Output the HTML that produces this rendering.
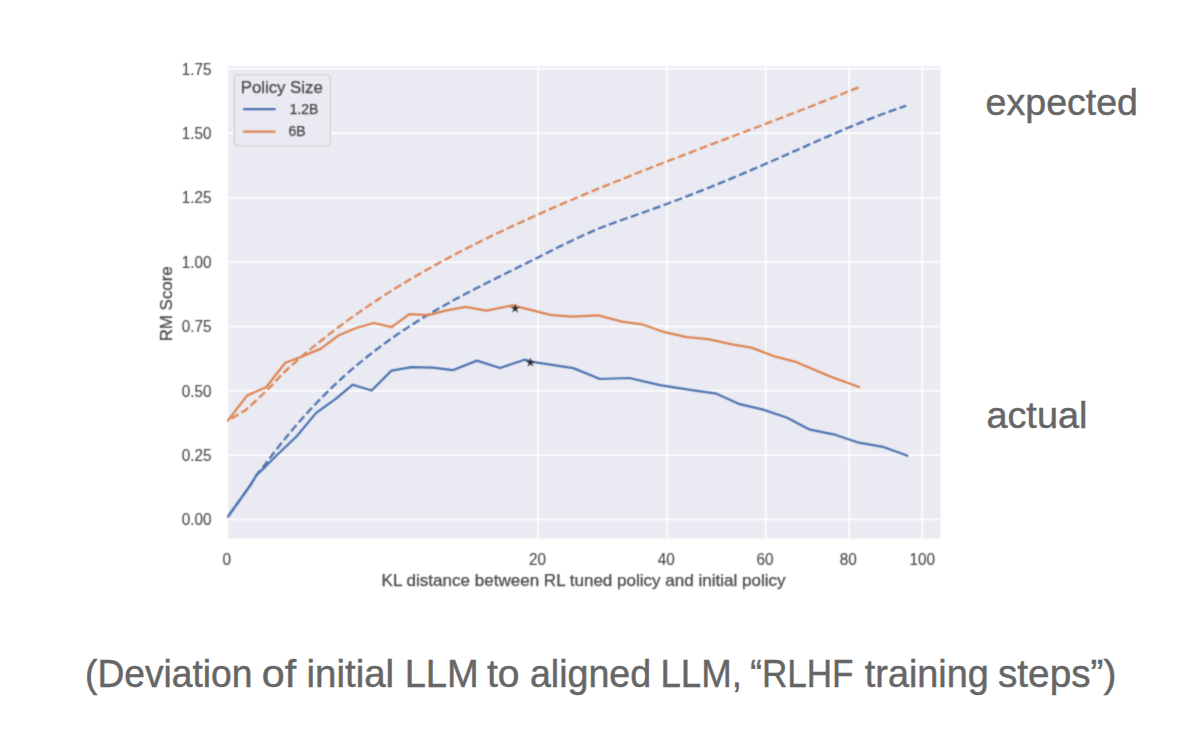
<!DOCTYPE html>
<html><head><meta charset="utf-8"><title>RM Score vs KL</title>
<style>
html,body{margin:0;padding:0;background:#fff;}
body{width:1192px;height:730px;overflow:hidden;position:relative;}
svg{position:absolute;left:0;top:0;display:block;}

</style></head><body>
<svg id="chart" width="1192" height="730" viewBox="0 0 1192 730">
<defs><filter id="soft" x="0" y="0" width="1192" height="730" filterUnits="userSpaceOnUse" color-interpolation-filters="sRGB"><feConvolveMatrix order="3" kernelMatrix="0.03607 0.11778 0.03607 0.11778 0.38462 0.11778 0.03607 0.11778 0.03607" edgeMode="duplicate"/></filter></defs>
<g filter="url(#soft)">
<rect x="0" y="0" width="1192" height="730" fill="#fff"/>
<rect x="227.5" y="66.0" width="713.0" height="472.5" fill="#EAEAF2"/>
<line x1="227.5" x2="940.5" y1="519.60" y2="519.60" stroke="#fff" stroke-width="1.5"/>
<line x1="227.5" x2="940.5" y1="455.21" y2="455.21" stroke="#fff" stroke-width="1.5"/>
<line x1="227.5" x2="940.5" y1="390.82" y2="390.82" stroke="#fff" stroke-width="1.5"/>
<line x1="227.5" x2="940.5" y1="326.42" y2="326.42" stroke="#fff" stroke-width="1.5"/>
<line x1="227.5" x2="940.5" y1="262.03" y2="262.03" stroke="#fff" stroke-width="1.5"/>
<line x1="227.5" x2="940.5" y1="197.64" y2="197.64" stroke="#fff" stroke-width="1.5"/>
<line x1="227.5" x2="940.5" y1="133.25" y2="133.25" stroke="#fff" stroke-width="1.5"/>
<line x1="227.5" x2="940.5" y1="68.85" y2="68.85" stroke="#fff" stroke-width="1.5"/>
<line x1="227.50" x2="227.50" y1="66.0" y2="538.5" stroke="#fff" stroke-width="1.5"/>
<line x1="538.22" x2="538.22" y1="66.0" y2="538.5" stroke="#fff" stroke-width="1.5"/>
<line x1="666.93" x2="666.93" y1="66.0" y2="538.5" stroke="#fff" stroke-width="1.5"/>
<line x1="765.69" x2="765.69" y1="66.0" y2="538.5" stroke="#fff" stroke-width="1.5"/>
<line x1="848.95" x2="848.95" y1="66.0" y2="538.5" stroke="#fff" stroke-width="1.5"/>
<line x1="922.30" x2="922.30" y1="66.0" y2="538.5" stroke="#fff" stroke-width="1.5"/>
<polyline points="228.0,516.6 250.5,485.0 256.6,474.8 264.7,465.0 268.7,459.6 272.7,454.3 276.7,449.1 280.7,444.0 284.7,439.1 288.7,434.2 292.7,429.4 296.7,424.7 300.7,420.2 304.7,415.7 308.7,411.3 312.7,407.0 316.7,402.8 320.7,398.7 324.7,394.6 328.7,390.7 332.7,386.8 336.7,383.0 340.7,379.3 344.7,375.7 348.7,372.2 352.7,368.7 356.7,365.3 360.7,362.0 364.7,358.7 368.7,355.5 372.7,352.4 376.7,349.3 380.7,346.3 384.7,343.4 388.7,340.5 392.7,337.7 396.7,334.9 400.7,332.2 404.7,329.5 408.7,326.9 412.7,324.3 416.7,321.8 420.7,319.3 424.7,316.8 428.7,314.4 432.7,312.1 436.7,309.7 440.7,307.4 444.7,305.2 448.7,303.0 452.7,300.8 456.7,298.6 460.7,296.4 464.7,294.3 468.7,292.2 472.7,290.1 476.7,288.1 480.7,286.0 484.7,284.0 488.7,282.0 492.7,280.0 496.7,278.0 500.7,276.0 504.7,274.0 508.7,272.0 512.7,270.1 516.7,268.1 520.7,266.1 524.7,264.1 528.7,262.1 532.7,260.2 536.7,258.2 540.7,256.1 544.7,254.1 548.7,252.1 552.7,250.1 556.7,248.1 560.7,246.1 564.7,244.1 568.7,242.2 572.7,240.2 576.7,238.3 580.7,236.5 584.7,234.6 588.7,232.9 592.7,231.1 596.7,229.4 600.7,227.8 604.7,226.3 608.7,224.7 612.7,223.2 616.7,221.8 620.7,220.4 624.7,219.0 628.7,217.6 632.7,216.2 636.7,214.8 640.7,213.4 644.7,212.0 648.7,210.5 652.7,209.1 656.7,207.6 660.7,206.2 664.7,204.7 668.7,203.2 672.7,201.7 676.7,200.2 680.7,198.7 684.7,197.2 688.7,195.6 692.7,194.1 696.7,192.5 700.7,190.9 704.7,189.3 708.7,187.7 712.7,186.1 716.7,184.5 720.7,182.9 724.7,181.2 728.7,179.6 732.7,177.9 736.7,176.2 740.7,174.5 744.7,172.9 748.7,171.2 752.7,169.4 756.7,167.7 760.7,166.0 764.7,164.3 768.7,162.5 772.7,160.8 776.7,159.0 780.7,157.2 784.7,155.5 788.7,153.7 792.7,151.9 796.7,150.2 800.7,148.4 804.7,146.6 808.7,144.8 812.7,143.1 816.7,141.3 820.7,139.5 824.7,137.8 828.7,136.1 832.7,134.3 836.7,132.6 840.7,130.9 844.7,129.2 848.7,127.5 852.7,125.9 856.7,124.2 860.7,122.6 864.7,121.0 868.7,119.4 872.7,117.9 876.7,116.3 880.7,114.8 884.7,113.3 888.7,111.9 892.7,110.4 896.7,109.0 900.7,107.6 904.7,106.3 906.2,105.8" fill="none" stroke="#4C72B0" stroke-width="2.25" stroke-dasharray="8.1 3.5" stroke-dashoffset="9.60" stroke-linejoin="round"/>
<polyline points="227.9,420.6 236.5,415.5 245.5,410.2 255.4,401.2 262.8,394.2 271.8,385.5 279.2,377.3 287.4,369.1 291.4,365.6 295.4,362.1 299.4,358.6 303.4,355.2 307.4,351.8 311.4,348.5 315.4,345.2 319.4,342.0 323.4,338.8 327.4,335.7 331.4,332.6 335.4,329.5 339.4,326.5 343.4,323.6 347.4,320.6 351.4,317.7 355.4,314.9 359.4,312.1 363.4,309.3 367.4,306.6 371.4,303.9 375.4,301.2 379.4,298.5 383.4,295.9 387.4,293.4 391.4,290.8 395.4,288.3 399.4,285.9 403.4,283.4 407.4,281.0 411.4,278.6 415.4,276.3 419.4,274.0 423.4,271.7 427.4,269.4 431.4,267.2 435.4,264.9 439.4,262.7 443.4,260.6 447.4,258.4 451.4,256.3 455.4,254.2 459.4,252.1 463.4,250.1 467.4,248.0 471.4,246.0 475.4,244.0 479.4,242.0 483.4,240.0 487.4,238.1 491.4,236.1 495.4,234.2 499.4,232.3 503.4,230.4 507.4,228.5 511.4,226.6 515.4,224.8 519.4,222.9 523.4,221.1 527.4,219.3 531.4,217.5 535.4,215.7 539.4,213.9 543.4,212.1 547.4,210.3 551.4,208.6 555.4,206.8 559.4,205.1 563.4,203.4 567.4,201.7 571.4,200.0 575.4,198.3 579.4,196.6 583.4,194.9 587.4,193.2 591.4,191.6 595.4,189.9 599.4,188.3 603.4,186.6 607.4,185.0 611.4,183.4 615.4,181.8 619.4,180.2 623.4,178.6 627.4,177.0 631.4,175.4 635.4,173.8 639.4,172.2 643.4,170.6 647.4,169.1 651.4,167.5 655.4,165.9 659.4,164.4 663.4,162.8 667.4,161.3 671.4,159.7 675.4,158.2 679.4,156.7 683.4,155.1 687.4,153.6 691.4,152.1 695.4,150.5 699.4,149.0 703.4,147.5 707.4,146.0 711.4,144.4 715.4,142.9 719.4,141.4 723.4,139.9 727.4,138.4 731.4,136.8 735.4,135.3 739.4,133.8 743.4,132.3 747.4,130.8 751.4,129.2 755.4,127.7 759.4,126.2 763.4,124.7 767.4,123.1 771.4,121.6 775.4,120.1 779.4,118.5 783.4,117.0 787.4,115.5 791.4,113.9 795.4,112.4 799.4,110.8 803.4,109.3 807.4,107.7 811.4,106.2 815.4,104.6 819.4,103.0 823.4,101.4 827.4,99.8 831.4,98.3 835.4,96.7 839.4,95.1 843.4,93.5 847.4,91.8 851.4,90.2 855.4,88.6 858.4,87.4" fill="none" stroke="#DD8452" stroke-width="2.25" stroke-dasharray="8.1 3.5" stroke-dashoffset="7.45" stroke-linejoin="round"/>
<polyline points="228.0,516.6 250.5,485.0 256.6,474.8 264.7,467.3 277.0,455.0 296.5,436.5 316.2,412.9 335.7,398.8 352.8,384.7 371.6,390.5 391.5,370.6 411.7,367.1 433.1,367.7 452.7,370.2 476.9,360.6 500.0,368.0 524.5,359.7 534.0,362.1 573.3,368.1 600.0,379.0 629.2,378.0 660.1,385.1 688.3,389.6 716.5,393.7 739.7,404.2 763.1,409.6 787.2,417.7 809.9,429.7 833.6,434.3 858.9,442.7 882.8,446.8 907.5,455.7" fill="none" stroke="#4C72B0" stroke-width="2.25" stroke-linejoin="round" stroke-linecap="round"/>
<polyline points="227.9,420.6 247.2,395.4 266.2,387.2 285.3,362.7 302.0,356.5 321.0,348.6 338.9,335.2 356.0,328.0 373.9,323.0 391.6,327.2 409.3,314.1 428.4,315.1 445.5,310.6 465.6,306.9 486.5,310.6 512.5,305.4 551.5,315.2 572.6,316.7 598.1,315.3 622.2,321.6 643.4,324.7 664.5,332.2 686.6,337.2 708.0,339.1 733.2,344.6 751.3,347.6 775.5,356.7 796.6,362.2 829.3,376.1 859.1,387.0" fill="none" stroke="#DD8452" stroke-width="2.25" stroke-linejoin="round" stroke-linecap="round"/>
<path d="M515.20,303.40 L514.22,307.25 L510.25,306.99 L513.62,309.11 L512.14,312.81 L515.20,310.26 L518.26,312.81 L516.78,309.11 L520.15,306.99 L516.18,307.25Z" fill="#262626"/>
<path d="M530.40,357.40 L529.42,361.25 L525.45,360.99 L528.82,363.11 L527.34,366.81 L530.40,364.26 L533.46,366.81 L531.98,363.11 L535.35,360.99 L531.38,361.25Z" fill="#262626"/>
<rect x="234.5" y="74.9" width="95.8" height="71" rx="3" fill="#EAEAF2" stroke="#cccccc" stroke-width="1"/>
<line x1="243" x2="275.6" y1="109" y2="109" stroke="#4C72B0" stroke-width="2.25"/>
<line x1="243" x2="275.6" y1="131.6" y2="131.6" stroke="#DD8452" stroke-width="2.25"/>
<text x="240.7" y="92.6" font-family="'Liberation Sans', Arial, sans-serif" font-size="16.8" fill="#474747" stroke="#474747" stroke-width="0.25">Policy Size</text>
<text x="289.6" y="113.9" font-family="'Liberation Sans', Arial, sans-serif" font-size="14" fill="#474747" stroke="#474747" stroke-width="0.25">1.2B</text>
<text x="288.4" y="136.2" font-family="'Liberation Sans', Arial, sans-serif" font-size="14" fill="#474747" stroke="#474747" stroke-width="0.25">6B</text>
<text transform="translate(211.5,525.30) scale(1,1.08)" font-family="'Liberation Sans', Arial, sans-serif" font-size="15.3" fill="#474747" stroke="#474747" stroke-width="0.1" text-anchor="end">0.00</text>
<text transform="translate(211.5,460.91) scale(1,1.08)" font-family="'Liberation Sans', Arial, sans-serif" font-size="15.3" fill="#474747" stroke="#474747" stroke-width="0.1" text-anchor="end">0.25</text>
<text transform="translate(211.5,396.52) scale(1,1.08)" font-family="'Liberation Sans', Arial, sans-serif" font-size="15.3" fill="#474747" stroke="#474747" stroke-width="0.1" text-anchor="end">0.50</text>
<text transform="translate(211.5,332.12) scale(1,1.08)" font-family="'Liberation Sans', Arial, sans-serif" font-size="15.3" fill="#474747" stroke="#474747" stroke-width="0.1" text-anchor="end">0.75</text>
<text transform="translate(211.5,267.73) scale(1,1.08)" font-family="'Liberation Sans', Arial, sans-serif" font-size="15.3" fill="#474747" stroke="#474747" stroke-width="0.1" text-anchor="end">1.00</text>
<text transform="translate(211.5,203.34) scale(1,1.08)" font-family="'Liberation Sans', Arial, sans-serif" font-size="15.3" fill="#474747" stroke="#474747" stroke-width="0.1" text-anchor="end">1.25</text>
<text transform="translate(211.5,138.94) scale(1,1.08)" font-family="'Liberation Sans', Arial, sans-serif" font-size="15.3" fill="#474747" stroke="#474747" stroke-width="0.1" text-anchor="end">1.50</text>
<text transform="translate(211.5,74.55) scale(1,1.08)" font-family="'Liberation Sans', Arial, sans-serif" font-size="15.3" fill="#474747" stroke="#474747" stroke-width="0.1" text-anchor="end">1.75</text>
<text transform="translate(226.70,565) scale(1,1.08)" font-family="'Liberation Sans', Arial, sans-serif" font-size="15.3" fill="#474747" stroke="#474747" stroke-width="0.1" text-anchor="middle">0</text>
<text transform="translate(537.42,565) scale(1,1.08)" font-family="'Liberation Sans', Arial, sans-serif" font-size="15.3" fill="#474747" stroke="#474747" stroke-width="0.1" text-anchor="middle">20</text>
<text transform="translate(666.13,565) scale(1,1.08)" font-family="'Liberation Sans', Arial, sans-serif" font-size="15.3" fill="#474747" stroke="#474747" stroke-width="0.1" text-anchor="middle">40</text>
<text transform="translate(764.89,565) scale(1,1.08)" font-family="'Liberation Sans', Arial, sans-serif" font-size="15.3" fill="#474747" stroke="#474747" stroke-width="0.1" text-anchor="middle">60</text>
<text transform="translate(848.15,565) scale(1,1.08)" font-family="'Liberation Sans', Arial, sans-serif" font-size="15.3" fill="#474747" stroke="#474747" stroke-width="0.1" text-anchor="middle">80</text>
<text transform="translate(922.30,565) scale(1,1.08)" font-family="'Liberation Sans', Arial, sans-serif" font-size="15.3" fill="#474747" stroke="#474747" stroke-width="0.1" text-anchor="middle">100</text>
<text x="583.6" y="586" font-family="'Liberation Sans', Arial, sans-serif" font-size="17.05" fill="#474747" stroke="#474747" stroke-width="0.25" text-anchor="middle">KL distance between RL tuned policy and initial policy</text>
<text transform="translate(172.2,303.8) rotate(-90)" x="0" y="0" font-family="'Liberation Sans', Arial, sans-serif" font-size="16.9" fill="#474747" stroke="#474747" stroke-width="0.25" text-anchor="middle">RM Score</text>
</g>
<text x="985.60" y="115.3" font-family="'Liberation Sans', Arial, sans-serif" font-size="37.5" fill="#666666" stroke="#666666" stroke-width="0.45" textLength="152.40" lengthAdjust="spacingAndGlyphs">expected</text>
<text x="986.40" y="427.9" font-family="'Liberation Sans', Arial, sans-serif" font-size="37.5" fill="#666666" stroke="#666666" stroke-width="0.45" textLength="101.01" lengthAdjust="spacingAndGlyphs">actual</text>
<text x="85.00" y="686.8" font-family="'Liberation Sans', Arial, sans-serif" font-size="38" fill="#666666" stroke="#666666" stroke-width="0.45" textLength="167.49" lengthAdjust="spacingAndGlyphs">(Deviation</text>
<text x="261.80" y="686.8" font-family="'Liberation Sans', Arial, sans-serif" font-size="38" fill="#666666" stroke="#666666" stroke-width="0.45" textLength="34.33" lengthAdjust="spacingAndGlyphs">of</text>
<text x="306.50" y="686.8" font-family="'Liberation Sans', Arial, sans-serif" font-size="38" fill="#666666" stroke="#666666" stroke-width="0.45" textLength="87.63" lengthAdjust="spacingAndGlyphs">initial</text>
<text x="404.70" y="686.8" font-family="'Liberation Sans', Arial, sans-serif" font-size="38" fill="#666666" stroke="#666666" stroke-width="0.45" textLength="74.06" lengthAdjust="spacingAndGlyphs">LLM</text>
<text x="487.00" y="686.8" font-family="'Liberation Sans', Arial, sans-serif" font-size="38" fill="#666666" stroke="#666666" stroke-width="0.45" textLength="32.58" lengthAdjust="spacingAndGlyphs">to</text>
<text x="529.90" y="686.8" font-family="'Liberation Sans', Arial, sans-serif" font-size="38" fill="#666666" stroke="#666666" stroke-width="0.45" textLength="121.29" lengthAdjust="spacingAndGlyphs">aligned</text>
<text x="660.40" y="686.8" font-family="'Liberation Sans', Arial, sans-serif" font-size="38" fill="#666666" stroke="#666666" stroke-width="0.45" textLength="81.54" lengthAdjust="spacingAndGlyphs">LLM,</text>
<text x="750.30" y="686.8" font-family="'Liberation Sans', Arial, sans-serif" font-size="38" fill="#666666" stroke="#666666" stroke-width="0.45" textLength="103.15" lengthAdjust="spacingAndGlyphs">“RLHF</text>
<text x="864.80" y="686.8" font-family="'Liberation Sans', Arial, sans-serif" font-size="38" fill="#666666" stroke="#666666" stroke-width="0.45" textLength="124.05" lengthAdjust="spacingAndGlyphs">training</text>
<text x="998.00" y="686.8" font-family="'Liberation Sans', Arial, sans-serif" font-size="38" fill="#666666" stroke="#666666" stroke-width="0.45" textLength="118.29" lengthAdjust="spacingAndGlyphs">steps”)</text>
</svg>
</body></html>
